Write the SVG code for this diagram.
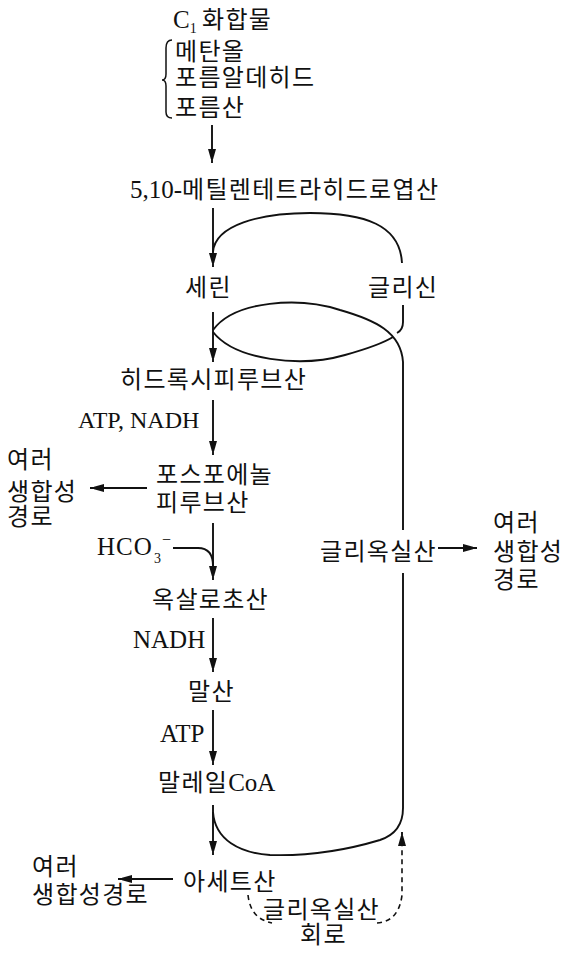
<svg xmlns="http://www.w3.org/2000/svg" width="563" height="956" viewBox="0 0 563 956">
<style>
text{font-family:"Liberation Serif","Noto Sans CJK KR",serif;font-size:24px;letter-spacing:1.3px;fill:#111}
.lat{font-size:25px;letter-spacing:0}
.sub{font-size:14px;letter-spacing:0}
.ln{fill:none;stroke:#111;stroke-width:1.9}
.ar{fill:none;stroke:#111;stroke-width:1.9;marker-end:url(#ah)}
.dash{fill:none;stroke:#111;stroke-width:1.6;stroke-dasharray:5,4}
</style>
<defs>
<marker id="ah" markerUnits="userSpaceOnUse" markerWidth="10" markerHeight="16" viewBox="0 0 10 16" refX="14" refY="5" orient="auto">
<path d="M0,1 L14,5 L0,9 Z" fill="#111"/>
</marker>
</defs>
<rect width="563" height="956" fill="#fff"/>
<g id="connectors">
<path class="ar" d="M212,125 V163"/>
<path class="ar" d="M213,208 V267"/>
<path class="ar" d="M213,312 V362"/>
<path class="ar" d="M213,400 V455"/>
<path class="ar" d="M213,523 V580"/>
<path class="ar" d="M213,618 V672"/>
<path class="ar" d="M213,710 V765"/>
<path class="ar" d="M213,805 V855"/>
<path class="ar" d="M147,488 H90"/>
<path class="ar" d="M173,879 H118"/>
<path class="ar" d="M438,548 H477"/>
<path class="ln" d="M173,548 H198 Q213,548 213,566"/>
<path class="ln" d="M213,252 C215,225 260,213 310,213 C365,213 400,225 402,263"/>
<path class="ln" d="M213,330 C235,300 300,297 340,310 C375,320 401,332 403,362 V530"/>
<path class="ln" d="M213,332 C235,360 300,368 345,355 C370,348 385,342 393,337"/>
<path class="ln" d="M403,305 V322 Q403,330 397,333"/>
<path class="ln" d="M403,573 V808 C403,825 395,835 380,840 C340,852 300,856 270,855 C240,853 215,840 213,812"/>
<path class="dash" d="M248,895 C250,912 258,920 272,923"/>
<path class="dash" d="M377,923 C392,922 400,912 402,895 V845"/>
<path class="ar" d="M402,846 V832"/>
<path class="ln" style="stroke-width:1.5" d="M172,40 Q166,40 166,48 V74 Q166,80 162,80 Q166,80 166,86 V112 Q166,118 172,118"/>
</g>
<g id="c1"><text x="173" y="28"><tspan class="lat">C</tspan><tspan class="sub" dy="5">1</tspan><tspan x="202" dy="-5">화합물</tspan></text></g>
<g id="c1list">
<text x="175" y="60">메탄올</text>
<text x="175" y="86">포름알데히드</text>
<text x="175" y="116">포름산</text>
</g>
<g id="thf"><text x="130" y="198"><tspan class="lat">5,10-</tspan>메틸렌테트라히드로엽산</text></g>
<g id="serine"><text x="185" y="296">세린</text></g>
<g id="glycine"><text x="368" y="296">글리신</text></g>
<g id="hydroxypyruvate"><text x="120" y="388">히드록시피루브산</text></g>
<g id="lbl1"><text class="lat" x="78" y="428" style="font-size:24px">ATP, NADH</text></g>
<g id="pep"><text x="156" y="483">포스포에놀</text><text x="156" y="511">피루브산</text></g>
<g id="bio1"><text x="7" y="468">여러</text><text x="7" y="500">생합성</text><text x="7" y="525">경로</text></g>
<g id="hco3"><text class="lat" x="97" y="555" style="letter-spacing:1px">HCO</text><text class="sub" x="154" y="563">3</text><text x="162" y="545" style="font-size:16px;letter-spacing:0">−</text></g>
<g id="oaa"><text x="152" y="608">옥살로초산</text></g>
<g id="lbl2"><text class="lat" x="133" y="648">NADH</text></g>
<g id="malate"><text x="188" y="700">말산</text></g>
<g id="lbl3"><text class="lat" x="160" y="742">ATP</text></g>
<g id="malylcoa"><text x="158" y="791">말레일<tspan class="lat">CoA</tspan></text></g>
<g id="acetate"><text x="183" y="890">아세트산</text></g>
<g id="bio3"><text x="32" y="875">여러</text><text x="32" y="903">생합성경로</text></g>
<g id="cycle"><text x="263" y="918">글리옥실산</text><text x="300" y="943">회로</text></g>
<g id="glyoxylate"><text x="320" y="560">글리옥실산</text></g>
<g id="bio2"><text x="493" y="531">여러</text><text x="493" y="560">생합성</text><text x="493" y="588">경로</text></g>
</svg>
